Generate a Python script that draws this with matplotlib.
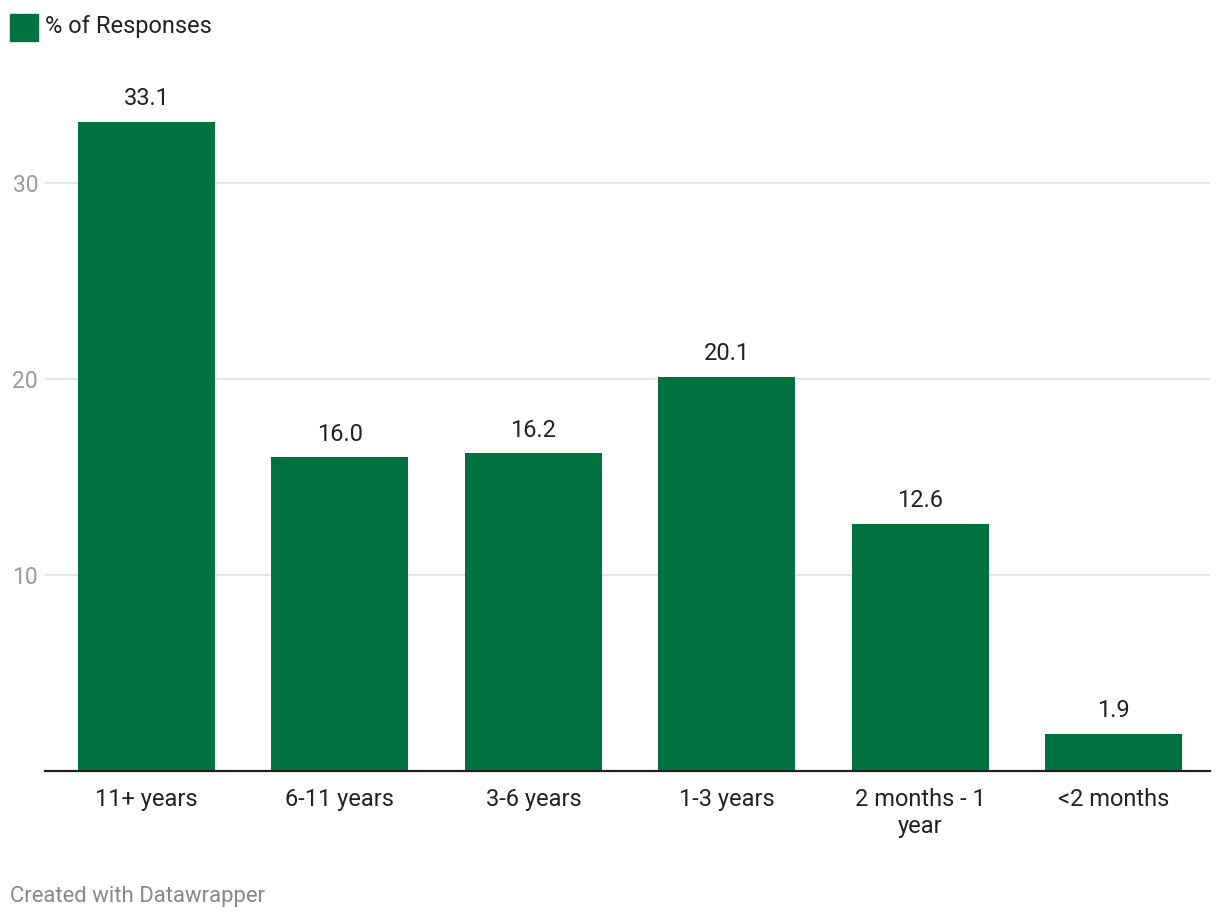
import matplotlib
matplotlib.use("Agg")
import matplotlib.pyplot as plt
from matplotlib.patches import Rectangle

categories = ["11+ years", "6-11 years", "3-6 years", "1-3 years", "2 months - 1\nyear", "<2 months"]
values = [33.1, 16.0, 16.2, 20.1, 12.6, 1.9]
yticks = [10, 20, 30]
series_name = "% of Responses"
green = "#00723F"

plt.rcParams['font.family'] = ['Roboto', 'DejaVu Sans']

W, H = 1220, 922
fig = plt.figure(figsize=(W/100, H/100), dpi=100)
left, right, bottom_px, top_px = 45, 1210, 771, 85
ax = fig.add_axes([left/W, (H-bottom_px)/H, (right-left)/W, (bottom_px-top_px)/H])

x = list(range(len(categories)))
ax.bar(x, values, width=0.708, color=green, zorder=3)
ax.set_xlim(-0.525, 5.499)
ax.set_ylim(0, 35)
ax.set_yticks(yticks)
ax.set_yticklabels([str(t) for t in yticks])
ax.grid(axis='y', color='#e3e3e3', linewidth=1.3, zorder=0)
for s in ['top', 'right', 'left']:
    ax.spines[s].set_visible(False)
ax.spines['bottom'].set_color('#222222')
ax.spines['bottom'].set_linewidth(1.6)
ax.spines['bottom'].set_zorder(4)
ax.tick_params(axis='y', length=0, pad=5, labelsize=16.5, labelcolor='#9a9a9a')
ax.tick_params(axis='x', length=0, pad=12, labelsize=17, labelcolor='#222222')
ax.set_xticks(x)
ax.set_xticklabels(categories, linespacing=1.25, va='top')

for xi, v in zip(x, values):
    ax.annotate(f"{v:.1f}", (xi, v), xytext=(0, 8.5), textcoords='offset points',
                ha='center', va='bottom', fontsize=17, color='#222222')

# legend
fig.patches.append(Rectangle((10/W, (H-41)/H), 28/W, 27/H, transform=fig.transFigure,
                             color=green, figure=fig))
fig.text(45/W, (H-27)/H, series_name, fontsize=17, color='#222222', va='center', ha='left')

fig.text(10/W, (H-896)/H, "Created with Datawrapper", fontsize=15.9, color='#888888',
         va='center', ha='left')

fig.savefig("out.png", dpi=100, facecolor='white')
